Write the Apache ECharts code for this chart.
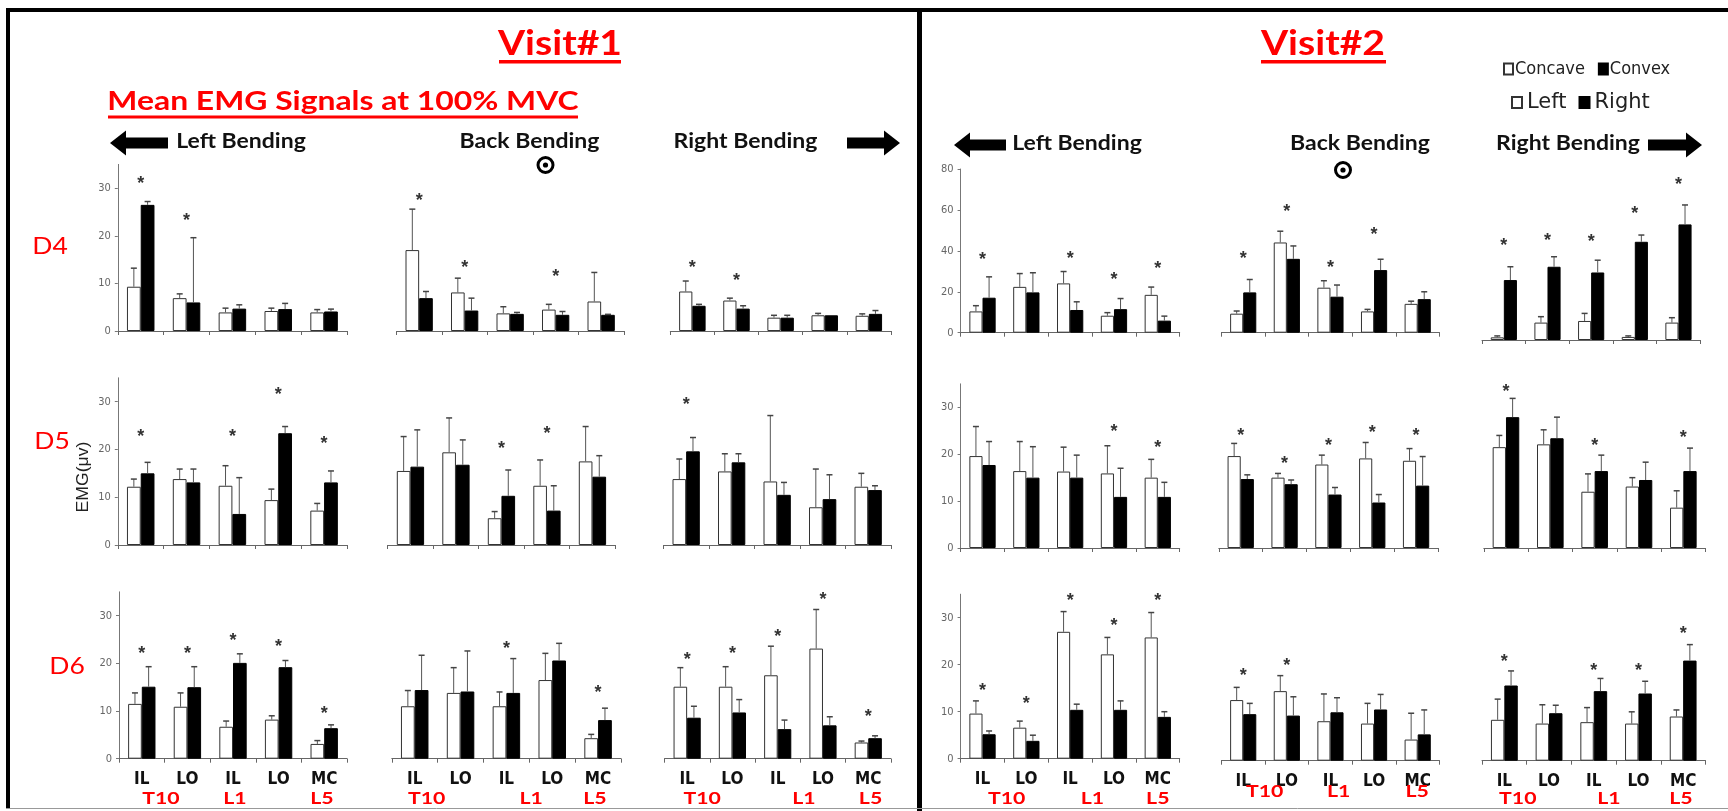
<!DOCTYPE html>
<html>
<head>
<meta charset="utf-8">
<script src="https://cdn.jsdelivr.net/npm/echarts@6/dist/echarts.min.js"></script>
<style>
  html, body { margin: 0; padding: 0; background: #fff; }
  #chart { width: 1728px; height: 811px; }
</style>
</head>
<body>
<div id="chart"></div>
<script>
// ---------------------------------------------------------------
// Categories and labels
// ---------------------------------------------------------------
const CATEGORIES = ['IL', 'LO', 'IL', 'LO', 'MC'];
const LEVELS = ['T10', 'L1', 'L5'];
const BENDINGS = ['Left Bending', 'Back Bending', 'Right Bending'];
const SUBJECTS = ['D4', 'D5', 'D6'];
const V1_TICKS = [0, 10, 20, 30];
const V2_D4_TICKS = [0, 20, 40, 60, 80];
const V2_TICKS = [0, 10, 20, 30];

// ---------------------------------------------------------------
// Mean EMG (µV), SD and significance-mark heights
// LB = left bending, BB = back bending, RB = right bending
// open bar = concave / left side, filled bar = convex / right side
// ---------------------------------------------------------------
// Visit#1 - D4
const V1_D4_LB_OPEN = [9.3, 6.9, 3.9, 4.2, 3.9];
const V1_D4_LB_OPEN_SD = [3.9, 0.9, 0.9, 0.6, 0.6];
const V1_D4_LB_FILL = [26.5, 6.0, 4.7, 4.6, 4.1];
const V1_D4_LB_FILL_SD = [0.7, 13.6, 0.8, 1.2, 0.5];
const V1_D4_LB_STAR = [31.7, 24.0, null, null, null];
const V1_D4_BB_OPEN = [17.0, 8.1, 3.7, 4.5, 6.2];
const V1_D4_BB_OPEN_SD = [8.6, 3.0, 1.4, 1.1, 6.1];
const V1_D4_BB_FILL = [6.9, 4.3, 3.6, 3.4, 3.4];
const V1_D4_BB_FILL_SD = [1.4, 2.6, 0.3, 0.7, 0.1];
const V1_D4_BB_STAR = [28.2, 14.1, null, 12.1, null];
const V1_D4_RB_OPEN = [8.3, 6.4, 2.8, 3.3, 3.2];
const V1_D4_RB_OPEN_SD = [2.2, 0.5, 0.5, 0.4, 0.4];
const V1_D4_RB_FILL = [5.3, 4.7, 2.8, 3.3, 3.6];
const V1_D4_RB_FILL_SD = [0.3, 0.6, 0.5, 0.0, 0.7];
const V1_D4_RB_STAR = [14.0, 11.4, null, null, null];
// Visit#1 - D5
const V1_D5_LB_OPEN = [12.2, 13.8, 12.4, 9.4, 7.2];
const V1_D5_LB_OPEN_SD = [1.6, 2.1, 4.2, 2.3, 1.5];
const V1_D5_LB_FILL = [15.0, 13.1, 6.5, 23.4, 13.1];
const V1_D5_LB_FILL_SD = [2.3, 2.8, 7.6, 1.4, 2.4];
const V1_D5_LB_STAR = [23.4, null, 23.4, 32.2, 22.0];
const V1_D5_BB_OPEN = [15.5, 19.4, 5.6, 12.4, 17.5];
const V1_D5_BB_OPEN_SD = [7.2, 7.2, 1.4, 5.4, 7.3];
const V1_D5_BB_FILL = [16.4, 16.8, 10.3, 7.2, 14.3];
const V1_D5_BB_FILL_SD = [7.7, 5.2, 5.4, 5.2, 4.4];
const V1_D5_BB_STAR = [null, null, 21.0, 24.1, null];
const V1_D5_RB_OPEN = [13.8, 15.4, 13.3, 7.9, 12.2];
const V1_D5_RB_OPEN_SD = [4.2, 3.7, 13.8, 8.0, 2.8];
const V1_D5_RB_FILL = [19.6, 17.3, 10.5, 9.6, 11.5];
const V1_D5_RB_FILL_SD = [2.9, 1.8, 2.6, 5.1, 0.9];
const V1_D5_RB_STAR = [30.1, null, null, null, null];
// Visit#1 - D6
const V1_D6_LB_OPEN = [11.5, 10.9, 6.7, 8.2, 3.1];
const V1_D6_LB_OPEN_SD = [2.3, 2.9, 1.2, 0.8, 0.7];
const V1_D6_LB_FILL = [15.1, 15.0, 20.1, 19.2, 6.4];
const V1_D6_LB_FILL_SD = [4.2, 4.3, 1.9, 1.4, 0.7];
const V1_D6_LB_STAR = [22.8, 22.8, 25.6, 24.2, 10.3];
const V1_D6_BB_OPEN = [11.0, 13.8, 11.0, 16.5, 4.3];
const V1_D6_BB_OPEN_SD = [3.3, 5.3, 3.0, 5.6, 0.8];
const V1_D6_BB_FILL = [14.4, 14.1, 13.8, 20.6, 8.1];
const V1_D6_BB_FILL_SD = [7.3, 8.5, 7.2, 3.6, 2.5];
const V1_D6_BB_STAR = [null, null, 23.8, null, 14.6];
const V1_D6_RB_OPEN = [15.1, 15.1, 17.5, 23.1, 3.4];
const V1_D6_RB_OPEN_SD = [4.0, 4.2, 6.1, 8.2, 0.3];
const V1_D6_RB_FILL = [8.6, 9.7, 6.2, 7.0, 4.3];
const V1_D6_RB_FILL_SD = [2.4, 2.7, 1.9, 1.8, 0.5];
const V1_D6_RB_STAR = [21.5, 22.8, 26.4, 34.1, 9.5];
// Visit#2 - D4
const V2_D4_LB_OPEN = [10.4, 22.4, 24.1, 8.3, 18.5];
const V2_D4_LB_OPEN_SD = [2.8, 6.5, 5.8, 1.5, 3.8];
const V2_D4_LB_FILL = [17.1, 19.7, 11.1, 11.5, 5.9];
const V2_D4_LB_FILL_SD = [10.2, 9.6, 4.0, 5.2, 2.2];
const V2_D4_LB_STAR = [37.4, null, 37.9, 27.6, 33.0];
const V2_D4_BB_OPEN = [9.3, 44.1, 22.0, 10.4, 14.1];
const V2_D4_BB_OPEN_SD = [1.3, 5.5, 3.4, 1.0, 1.3];
const V2_D4_BB_FILL = [19.7, 36.1, 17.6, 30.6, 16.4];
const V2_D4_BB_FILL_SD = [6.3, 6.3, 5.7, 5.3, 3.6];
const V2_D4_BB_STAR = [37.9, 60.7, 33.5, 49.8, null];
const V2_D4_RB_OPEN = [1.3, 8.5, 9.3, 1.5, 8.5];
const V2_D4_RB_OPEN_SD = [0.7, 2.9, 3.7, 0.5, 2.4];
const V2_D4_RB_FILL = [29.3, 35.8, 33.0, 48.0, 56.5];
const V2_D4_RB_FILL_SD = [6.5, 4.9, 6.0, 3.3, 9.5];
const V2_D4_RB_STAR = [48.0, 50.4, 49.6, 63.4, 77.5];
// Visit#2 - D5
const V2_D5_LB_OPEN = [19.6, 16.4, 16.3, 15.9, 15.0];
const V2_D5_LB_OPEN_SD = [6.3, 6.3, 5.2, 5.9, 3.9];
const V2_D5_LB_FILL = [17.7, 15.0, 15.0, 10.9, 10.9];
const V2_D5_LB_FILL_SD = [5.0, 6.6, 4.8, 6.1, 3.1];
const V2_D5_LB_STAR = [null, null, null, 25.5, 22.2];
const V2_D5_BB_OPEN = [19.6, 15.0, 17.8, 19.1, 18.6];
const V2_D5_BB_OPEN_SD = [2.7, 0.9, 2.0, 3.4, 2.6];
const V2_D5_BB_FILL = [14.7, 13.6, 11.4, 9.7, 13.3];
const V2_D5_BB_FILL_SD = [0.9, 0.9, 1.5, 1.7, 6.2];
const V2_D5_BB_STAR = [24.8, 18.8, 22.5, 25.4, 24.8];
const V2_D5_RB_OPEN = [21.5, 22.1, 12.0, 13.1, 8.6];
const V2_D5_RB_OPEN_SD = [2.5, 3.1, 3.8, 1.9, 3.6];
const V2_D5_RB_FILL = [27.9, 23.4, 16.4, 14.5, 16.4];
const V2_D5_RB_FILL_SD = [4.0, 4.5, 3.4, 3.8, 4.9];
const V2_D5_RB_STAR = [34.2, null, 22.5, null, 24.2];
// Visit#2 - D6
const V2_D6_LB_OPEN = [9.6, 6.6, 27.0, 22.2, 25.8];
const V2_D6_LB_OPEN_SD = [2.7, 1.4, 4.3, 3.6, 5.3];
const V2_D6_LB_FILL = [5.2, 3.8, 10.4, 10.4, 8.9];
const V2_D6_LB_FILL_SD = [0.7, 1.2, 1.2, 1.9, 1.1];
const V2_D6_LB_STAR = [15.3, 12.5, 34.3, 29.1, 34.3];
const V2_D6_BB_OPEN = [12.9, 14.8, 8.4, 7.9, 4.5];
const V2_D6_BB_OPEN_SD = [2.7, 3.3, 5.8, 4.3, 5.6];
const V2_D6_BB_FILL = [9.9, 9.6, 10.3, 10.9, 5.6];
const V2_D6_BB_FILL_SD = [2.3, 4.0, 3.1, 3.2, 5.2];
const V2_D6_BB_STAR = [18.9, 20.9, null, null, null];
const V2_D6_RB_OPEN = [8.7, 7.9, 8.2, 7.9, 9.4];
const V2_D6_RB_OPEN_SD = [4.4, 4.0, 3.1, 2.5, 1.4];
const V2_D6_RB_FILL = [16.0, 10.1, 14.8, 14.3, 21.3];
const V2_D6_RB_FILL_SD = [3.1, 1.7, 2.7, 2.6, 3.4];
const V2_D6_RB_STAR = [21.8, null, 19.9, 19.9, 27.7];

// ---------------------------------------------------------------
// Panel list: [visit, row, column, open, openSD, filled, filledSD, stars]
// ---------------------------------------------------------------
const PANELS = [
  [1, 0, 0, V1_D4_LB_OPEN, V1_D4_LB_OPEN_SD, V1_D4_LB_FILL, V1_D4_LB_FILL_SD, V1_D4_LB_STAR],
  [1, 0, 1, V1_D4_BB_OPEN, V1_D4_BB_OPEN_SD, V1_D4_BB_FILL, V1_D4_BB_FILL_SD, V1_D4_BB_STAR],
  [1, 0, 2, V1_D4_RB_OPEN, V1_D4_RB_OPEN_SD, V1_D4_RB_FILL, V1_D4_RB_FILL_SD, V1_D4_RB_STAR],
  [1, 1, 0, V1_D5_LB_OPEN, V1_D5_LB_OPEN_SD, V1_D5_LB_FILL, V1_D5_LB_FILL_SD, V1_D5_LB_STAR],
  [1, 1, 1, V1_D5_BB_OPEN, V1_D5_BB_OPEN_SD, V1_D5_BB_FILL, V1_D5_BB_FILL_SD, V1_D5_BB_STAR],
  [1, 1, 2, V1_D5_RB_OPEN, V1_D5_RB_OPEN_SD, V1_D5_RB_FILL, V1_D5_RB_FILL_SD, V1_D5_RB_STAR],
  [1, 2, 0, V1_D6_LB_OPEN, V1_D6_LB_OPEN_SD, V1_D6_LB_FILL, V1_D6_LB_FILL_SD, V1_D6_LB_STAR],
  [1, 2, 1, V1_D6_BB_OPEN, V1_D6_BB_OPEN_SD, V1_D6_BB_FILL, V1_D6_BB_FILL_SD, V1_D6_BB_STAR],
  [1, 2, 2, V1_D6_RB_OPEN, V1_D6_RB_OPEN_SD, V1_D6_RB_FILL, V1_D6_RB_FILL_SD, V1_D6_RB_STAR],
  [2, 0, 0, V2_D4_LB_OPEN, V2_D4_LB_OPEN_SD, V2_D4_LB_FILL, V2_D4_LB_FILL_SD, V2_D4_LB_STAR],
  [2, 0, 1, V2_D4_BB_OPEN, V2_D4_BB_OPEN_SD, V2_D4_BB_FILL, V2_D4_BB_FILL_SD, V2_D4_BB_STAR],
  [2, 0, 2, V2_D4_RB_OPEN, V2_D4_RB_OPEN_SD, V2_D4_RB_FILL, V2_D4_RB_FILL_SD, V2_D4_RB_STAR],
  [2, 1, 0, V2_D5_LB_OPEN, V2_D5_LB_OPEN_SD, V2_D5_LB_FILL, V2_D5_LB_FILL_SD, V2_D5_LB_STAR],
  [2, 1, 1, V2_D5_BB_OPEN, V2_D5_BB_OPEN_SD, V2_D5_BB_FILL, V2_D5_BB_FILL_SD, V2_D5_BB_STAR],
  [2, 1, 2, V2_D5_RB_OPEN, V2_D5_RB_OPEN_SD, V2_D5_RB_FILL, V2_D5_RB_FILL_SD, V2_D5_RB_STAR],
  [2, 2, 0, V2_D6_LB_OPEN, V2_D6_LB_OPEN_SD, V2_D6_LB_FILL, V2_D6_LB_FILL_SD, V2_D6_LB_STAR],
  [2, 2, 1, V2_D6_BB_OPEN, V2_D6_BB_OPEN_SD, V2_D6_BB_FILL, V2_D6_BB_FILL_SD, V2_D6_BB_STAR],
  [2, 2, 2, V2_D6_RB_OPEN, V2_D6_RB_OPEN_SD, V2_D6_RB_FILL, V2_D6_RB_FILL_SD, V2_D6_RB_STAR]
];

// ---------------------------------------------------------------
// Layout (pixels)
// ---------------------------------------------------------------
// x-extent of each small plot, per visit / row / column
const PLOT_X = {
  1: [
    [[117.8, 347], [396.4, 623.9], [670.3, 890.9]],
    [[117.8, 347], [387.7, 615.2], [663.4, 890.9]],
    [[119, 347], [391.8, 621], [664.5, 890.9]]
  ],
  2: [
    [[960.6, 1179.7], [1221.4, 1439.5], [1482, 1700.3]],
    [[960.6, 1179.7], [1218.8, 1438], [1483.8, 1705.5]],
    [[960.6, 1179.7], [1221.4, 1439.5], [1482, 1705.5]]
  ]
};
// baseline y per column, pixels per unit, axis max, labelled ticks
const PLOT_Y = {
  1: [
    { base: [331, 331, 331], ppu: 4.76, max: 35, ticks: V1_TICKS },
    { base: [545, 545, 545], ppu: 4.777, max: 35, ticks: V1_TICKS },
    { base: [758.7, 758.7, 758.7], ppu: 4.767, max: 35, ticks: V1_TICKS }
  ],
  2: [
    { base: [332.7, 332.7, 340], ppu: 2.046, max: 80, ticks: V2_D4_TICKS },
    { base: [548, 548, 548], ppu: 4.69, max: 35, ticks: V2_TICKS },
    { base: [758.7, 760.7, 760.7], ppu: 4.7, max: 35, ticks: V2_TICKS }
  ]
};
// spinal-level label positions, in category widths from the plot's left edge
const LEVEL_POS = {
  1: [[0.92, 2.54, 4.45], [0.76, 3.04, 4.43], [0.83, 3.08, 4.55]],
  2: [[1.05, 3.01, 4.5], [0.99, 2.69, 4.49], [0.8, 2.84, 4.45]]
};

const NARROW = "'Liberation Sans Narrow', 'Arial Narrow', 'DejaVu Sans Condensed', sans-serif";
const HEAD = "Lato, 'Open Sans', sans-serif";
const ARIAL = "'Liberation Sans', Arial, sans-serif";

const BAR_FRAC = 0.3;

// ---------------------------------------------------------------
// Render helpers
// ---------------------------------------------------------------
function renderErr(params, api) {
  const i = api.value(0), m = api.value(1), sd = api.value(2), side = api.value(3);
  if (!(sd > 0)) return null;
  const band = api.size([1, 0])[0];
  const bw = band * BAR_FRAC;
  const p0 = api.coord([i, m]);
  const p1 = api.coord([i, m + sd]);
  const x = p0[0] + side * bw / 2;
  return {
    type: 'group',
    children: [
      { type: 'line', shape: { x1: x, y1: p0[1], x2: x, y2: p1[1] }, style: { stroke: '#555', lineWidth: 1 } },
      { type: 'line', shape: { x1: x - 3, y1: p1[1], x2: x + 3, y2: p1[1] }, style: { stroke: '#444', lineWidth: 1.5 } }
    ]
  };
}

function renderStar(params, api) {
  const p = api.coord([api.value(0), api.value(1)]);
  return {
    type: 'text',
    x: p[0], y: p[1] + 4,
    style: {
      text: '*', font: 'bold 18px ' + ARIAL, fill: '#333',
      align: 'center', textAlign: 'center', verticalAlign: 'middle', textVerticalAlign: 'middle'
    }
  };
}

function txt(x, y, text, font, fill, opt) {
  opt = opt || {};
  const a = opt.align || 'center';
  return {
    type: 'text', x: x, y: y, scaleX: opt.sx || 1, rotation: opt.rot || 0, silent: true, z: 20,
    style: { text: text, font: font, fill: fill, align: a, textAlign: a, verticalAlign: 'middle', textVerticalAlign: 'middle' }
  };
}
function hline(x1, x2, y, w, color) {
  return { type: 'line', silent: true, z: 20, shape: { x1: x1, y1: y, x2: x2, y2: y }, style: { stroke: color, lineWidth: w } };
}
function vline(x, y1, y2, w, color) {
  return { type: 'line', silent: true, z: 20, shape: { x1: x, y1: y1, x2: x, y2: y2 }, style: { stroke: color, lineWidth: w } };
}
function arrow(tipX, endX, yc) {
  const d = endX > tipX ? 1 : -1;
  const hl = 16 * d, hh = 12.5, sh = 5.5;
  return {
    type: 'polygon', silent: true, z: 20,
    shape: { points: [[tipX, yc], [tipX + hl, yc - hh], [tipX + hl, yc - sh], [endX, yc - sh],
                      [endX, yc + sh], [tipX + hl, yc + sh], [tipX + hl, yc + hh]] },
    style: { fill: '#000' }
  };
}
function target(cx, cy) {
  return [
    { type: 'circle', silent: true, z: 20, shape: { cx: cx, cy: cy, r: 7.5 }, style: { fill: 'none', stroke: '#000', lineWidth: 3 } },
    { type: 'circle', silent: true, z: 20, shape: { cx: cx, cy: cy, r: 2.6 }, style: { fill: '#000' } }
  ];
}

// ---------------------------------------------------------------
// Build grids, axes and series
// ---------------------------------------------------------------
const grids = [], xAxes = [], yAxes = [], series = [], graphics = [];

PANELS.forEach(function (p, k) {
  const visit = p[0], row = p[1], col = p[2];
  const xr = PLOT_X[visit][row][col];
  const yr = PLOT_Y[visit][row];
  const base = yr.base[col];
  const h = yr.max * yr.ppu;
  grids.push({ left: xr[0], top: base - h, width: xr[1] - xr[0], height: h, containLabel: false, outerBoundsMode: 'none' });

  const isBottom = row === 2;
  xAxes.push({
    type: 'category', gridIndex: k, data: CATEGORIES, boundaryGap: true,
    axisLine: { show: true, lineStyle: { color: '#666', width: 1 } },
    axisTick: { show: true, length: 4, interval: 0, lineStyle: { color: '#666' } },
    axisLabel: {
      show: isBottom, interval: 0, margin: 12,
      fontFamily: NARROW, fontWeight: 'bold', fontSize: 17, color: '#111'
    },
    splitLine: { show: false }
  });

  const showY = col === 0;
  yAxes.push({
    type: 'value', gridIndex: k, min: 0, max: yr.max,
    show: showY,
    axisLine: { show: true, lineStyle: { color: '#777', width: 1 } },
    axisTick: { show: true, length: 3, inside: false, customValues: yr.ticks, lineStyle: { color: '#777' } },
    axisLabel: { show: true, customValues: yr.ticks, margin: 7, fontFamily: NARROW, fontSize: 11, color: '#666' },
    splitLine: { show: false }
  });

  const openName = col === 1 ? 'Left' : 'Concave';
  const fillName = col === 1 ? 'Right' : 'Convex';
  const open = p[3], openSd = p[4], fill = p[5], fillSd = p[6], stars = p[7];

  series.push({
    type: 'bar', name: openName, xAxisIndex: k, yAxisIndex: k, data: open,
    barWidth: (BAR_FRAC * 100) + '%', barGap: '0%', silent: true, z: 2,
    itemStyle: { color: '#fff', borderColor: '#333', borderWidth: 1 }
  });
  series.push({
    type: 'bar', name: fillName, xAxisIndex: k, yAxisIndex: k, data: fill,
    barWidth: (BAR_FRAC * 100) + '%', barGap: '0%', silent: true, z: 2,
    itemStyle: { color: '#000', borderColor: '#000', borderWidth: 1 }
  });
  const errData = open.map(function (v, i) { return [i, v, openSd[i], -1]; })
    .concat(fill.map(function (v, i) { return [i, v, fillSd[i], 1]; }));
  series.push({
    type: 'custom', xAxisIndex: k, yAxisIndex: k, silent: true, z: 3,
    renderItem: renderErr, data: errData
  });
  const starData = [];
  stars.forEach(function (v, i) { if (v !== null) starData.push([i, v]); });
  series.push({
    type: 'custom', xAxisIndex: k, yAxisIndex: k, silent: true, z: 3,
    renderItem: renderStar, data: starData
  });

  // spinal level labels under the bottom row
  if (isBottom) {
    const cw = (xr[1] - xr[0]) / CATEGORIES.length;
    const ly = (visit === 2 && col === 1) ? 792 : 799;
    LEVELS.forEach(function (lv, j) {
      graphics.push(txt(xr[0] + LEVEL_POS[visit][col][j] * cw, ly, lv, 'bold 17px ' + HEAD, '#ff0000', { sx: 1.25 }));
    });
  }
});

// ---------------------------------------------------------------
// Frame, headings, arrows
// ---------------------------------------------------------------
graphics.push(hline(6, 1728, 10, 4, '#000'));
graphics.push(vline(8, 8, 808, 4, '#000'));
graphics.push(vline(919.5, 8, 811, 5, '#000'));
graphics.push(hline(6, 1728, 808.5, 1, '#999'));

// Visit#1
graphics.push(txt(560, 44, 'Visit#1', 'bold 34px ' + HEAD, '#ff0000', { sx: 1.15 }));
graphics.push({ type: 'rect', silent: true, z: 20, shape: { x: 499, y: 60, width: 122, height: 3.5 }, style: { fill: '#ff0000' } });
graphics.push(txt(343, 101, 'Mean EMG Signals at 100% MVC', 'bold 27px ' + HEAD, '#ff0000', { sx: 1.18 }));
graphics.push({ type: 'rect', silent: true, z: 20, shape: { x: 108, y: 115.5, width: 470, height: 3 }, style: { fill: '#ff0000' } });
graphics.push(arrow(110, 168, 143));
graphics.push(txt(241, 142, BENDINGS[0], 'bold 20px ' + HEAD, '#111', { sx: 1.15 }));
graphics.push(txt(529.5, 142, BENDINGS[1], 'bold 20px ' + HEAD, '#111', { sx: 1.15 }));
graphics.push(txt(745.5, 142, BENDINGS[2], 'bold 20px ' + HEAD, '#111', { sx: 1.15 }));
graphics.push(arrow(900, 847, 143));
target(545.5, 165).forEach(function (g) { graphics.push(g); });

// Visit#2
graphics.push(txt(1323, 44, 'Visit#2', 'bold 34px ' + HEAD, '#ff0000', { sx: 1.15 }));
graphics.push({ type: 'rect', silent: true, z: 20, shape: { x: 1261, y: 60, width: 125, height: 3.5 }, style: { fill: '#ff0000' } });
graphics.push(arrow(954, 1006, 145));
graphics.push(txt(1077, 144, BENDINGS[0], 'bold 20px ' + HEAD, '#111', { sx: 1.15 }));
graphics.push(txt(1360, 144, BENDINGS[1], 'bold 20px ' + HEAD, '#111', { sx: 1.15 }));
graphics.push(txt(1568, 144, BENDINGS[2], 'bold 20px ' + HEAD, '#111', { sx: 1.15 }));
graphics.push(arrow(1702, 1648, 145));
target(1343, 170).forEach(function (g) { graphics.push(g); });

// subject labels and y-axis title
graphics.push(txt(50, 247, SUBJECTS[0], '23px ' + HEAD, '#ff0000', { sx: 1.15 }));
graphics.push(txt(52, 442, SUBJECTS[1], '23px ' + HEAD, '#ff0000', { sx: 1.15 }));
graphics.push(txt(67, 667, SUBJECTS[2], '23px ' + HEAD, '#ff0000', { sx: 1.15 }));
graphics.push(txt(84, 477, 'EMG(μv)', '16px ' + ARIAL, '#222', { rot: Math.PI / 2, sx: 1.1 }));

// ---------------------------------------------------------------
const chart = echarts.init(document.getElementById('chart'), null, { renderer: 'canvas' });
chart.setOption({
  animation: false,
  backgroundColor: '#fff',
  grid: grids,
  xAxis: xAxes,
  yAxis: yAxes,
  legend: [
    {
      data: ['Concave', 'Convex'], left: 1498, top: 55, icon: 'rect', itemWidth: 9, itemHeight: 11, itemGap: 13,
      selectedMode: false,
      textStyle: { fontFamily: NARROW, fontSize: 18, color: '#222', padding: [0, 0, 0, -3] }
    },
    {
      data: ['Left', 'Right'], left: 1506, top: 87, icon: 'rect', itemWidth: 10, itemHeight: 11, itemGap: 12,
      selectedMode: false,
      textStyle: { fontFamily: "'DejaVu Sans', sans-serif", fontSize: 21, color: '#222' }
    }
  ],
  series: series,
  graphic: { elements: graphics }
});
</script>
</body>
</html>
